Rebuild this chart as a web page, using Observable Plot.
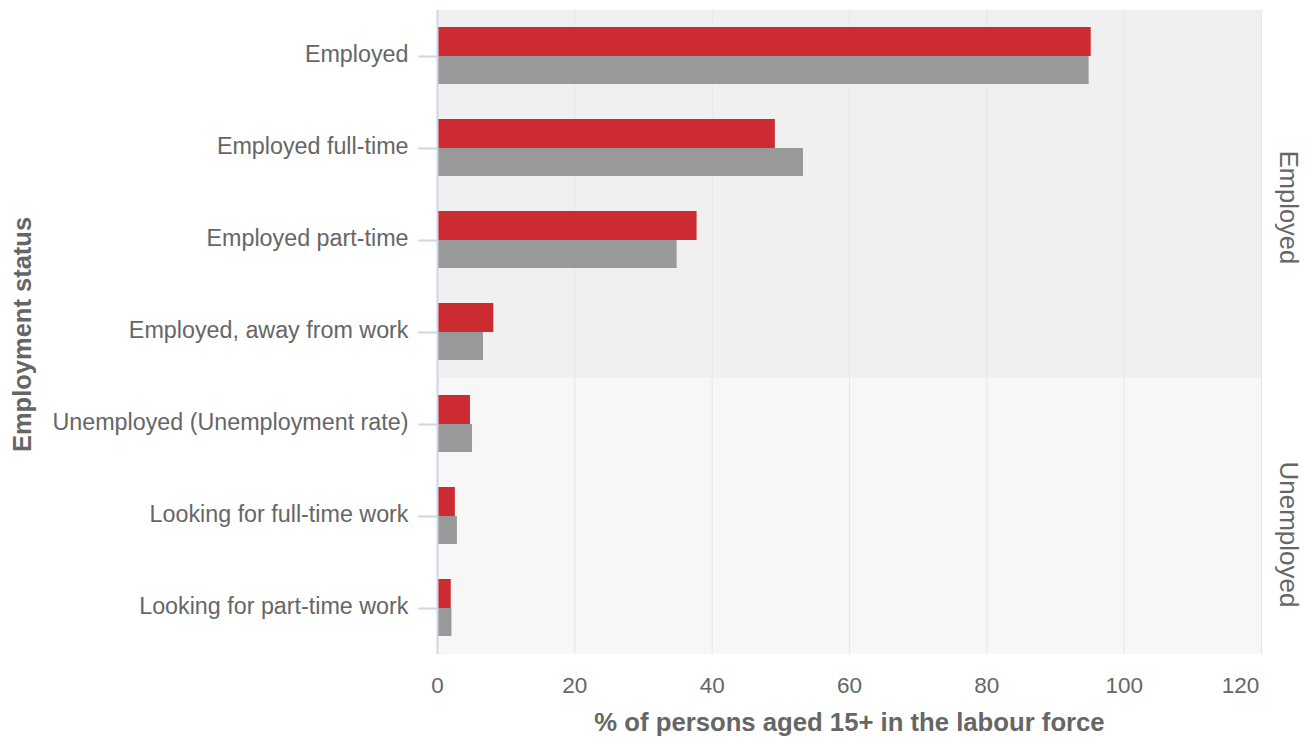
<!DOCTYPE html>
<html>
<head>
<meta charset="utf-8">
<script src="https://cdn.jsdelivr.net/npm/d3@7"></script>
<script src="https://cdn.jsdelivr.net/npm/@observablehq/plot@0.6"></script>
<style>
  html, body { margin: 0; padding: 0; background: #fff; }
  #chart { width: 1305px; height: 740px; }
</style>
</head>
<body>
<div id="chart"></div>
<script>
const categories = [
  "Employed",
  "Employed full-time",
  "Employed part-time",
  "Employed, away from work",
  "Unemployed (Unemployment rate)",
  "Looking for full-time work",
  "Looking for part-time work"
];
const groups = ["Employed", "Employed", "Employed", "Employed", "Unemployed", "Unemployed", "Unemployed"];
const seriesRed = [95.2, 49.2, 37.8, 8.2, 4.8, 2.6, 2.0];
const seriesGray = [94.9, 53.3, 34.9, 6.7, 5.1, 2.9, 2.1];
const xTicks = [0, 20, 40, 60, 80, 100, 120];

const rows = categories.map((c, i) => ({category: c, group: groups[i], red: seriesRed[i], gray: seriesGray[i]}));
const font = "'Liberation Sans', Arial, sans-serif";

const chart = Plot.plot({
  width: 1305,
  height: 740,
  marginLeft: 437,
  marginRight: 44,
  marginTop: 10,
  marginBottom: 86,
  style: {fontFamily: font, background: "#fff", overflow: "visible"},
  x: {domain: [0, 120], ticks: xTicks, axis: null},
  y: {domain: categories, padding: 0, axis: null},
  marks: [
    // plot bands
    Plot.barX(rows, {y: "category", x1: 0, x2: 120, fill: d => d.group === "Employed" ? "#f0f0f0" : "#f7f7f7"}),
    // gridlines
    Plot.ruleX(xTicks.filter(t => t > 0), {stroke: "#e6e6e6", strokeWidth: 1}),
    // bars
    Plot.barX(rows, {y: "category", x: "red", fill: "#cc2b31", insetTop: 17, insetBottom: 46}),
    Plot.barX(rows, {y: "category", x: "gray", fill: "#999999", insetTop: 46, insetBottom: 18}),
    // axis line
    Plot.ruleX([0], {stroke: "#ccd6eb", strokeWidth: 2}),
    // y ticks and labels
    Plot.axisY({anchor: "left", tickSize: 19, text: null, label: null, stroke: "#ccd6eb", strokeWidth: 2}),
    Plot.axisY({anchor: "left", tickSize: 0, tickPadding: 29, dy: -1.5, label: null, fontSize: 23.3, fill: "#666666", color: "#666666"}),
    // x tick labels
    Plot.axisX({anchor: "bottom", ticks: xTicks.slice(0, -1), tickSize: 0, tickPadding: 23, fontSize: 22.5, fill: "#666666", color: "#666666", label: null}),
    Plot.axisX({anchor: "bottom", ticks: xTicks.slice(-1), tickSize: 0, tickPadding: 23, dx: -21, fontSize: 22.5, fill: "#666666", color: "#666666", label: null}),
    // band labels (right side)
    Plot.text(["Employed"], {x: 120, y: () => "Employed full-time", dx: 27, dy: 59, text: d => d, rotate: 90, fontSize: 25.5, fill: "#666666"}),
    Plot.text(["Unemployed"], {x: 120, y: () => "Looking for full-time work", dx: 27, dy: 18, text: d => d, rotate: 90, fontSize: 26, fill: "#666666"}),
    // axis titles
    Plot.text(["Employment status"], {frameAnchor: "left", textAnchor: "middle", text: d => d, rotate: -90, dx: -415, dy: 2, fontSize: 25.5, fontWeight: "bold", fill: "#666666"}),
    Plot.text(["% of persons aged 15+ in the labour force"], {frameAnchor: "bottom", textAnchor: "middle", text: d => d, dy: 76, fontSize: 25.7, fontWeight: "bold", fill: "#666666"})
  ]
});
document.getElementById("chart").appendChild(chart);
</script>
</body>
</html>
